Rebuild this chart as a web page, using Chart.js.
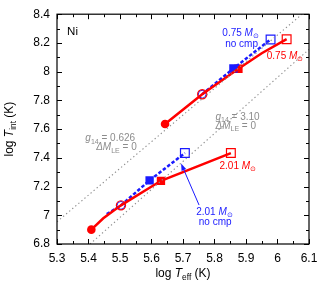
<!DOCTYPE html>
<html>
<head>
<meta charset="utf-8">
<script src="https://cdn.jsdelivr.net/npm/chart.js@4/dist/chart.umd.min.js"></script>
<style>
html,body{margin:0;padding:0;background:#fff;}
#wrap{width:330px;height:294px;position:relative;}
</style>
</head>
<body>
<div id="wrap"><canvas id="c" width="330" height="294"></canvas></div>
<script>
// ---- data (log Teff, log Tint) ----
const xTicks = [5.3, 5.4, 5.5, 5.6, 5.7, 5.8, 5.9, 6.0, 6.1];
const yTicks = [6.8, 7.0, 7.2, 7.4, 7.6, 7.8, 8.0, 8.2, 8.4];

const gLowLine  = [[5.300, 6.955], [6.078, 8.400]];   // g14 = 0.626
const gHighLine = [[5.405, 6.800], [6.100, 8.155]];   // g14 = 3.10

const red075  = [[5.643, 7.635], [5.761, 7.843], [5.876, 8.020], [5.950, 8.128], [6.029, 8.226]];
const blue075 = [[5.761, 7.843], [5.860, 8.022], [5.978, 8.224]];
const red201  = [[5.409, 6.900], [5.447, 6.979], [5.503, 7.069], [5.630, 7.240], [5.852, 7.433]];
const blue201 = [[5.458, 7.008], [5.503, 7.069], [5.594, 7.243], [5.706, 7.433]];

const redFilledCircle = [[5.643, 7.635], [5.409, 6.900]];
const openCircle      = [[5.761, 7.843], [5.503, 7.069]];
const blueFilledSq    = [[5.860, 8.022], [5.594, 7.243]];
const redFilledSq     = [[5.876, 8.020], [5.630, 7.240]];
const redOpenSq       = [[6.029, 8.226], [5.852, 7.433]];
const blueOpenSq      = [[5.978, 8.224], [5.706, 7.433]];

const arrow201 = [[5.751, 7.071], [5.694, 7.360]]; // tail -> tip

const RED = '#ff0000', BLUE = '#1a1aff', GREY = '#8c8c8c';
const FONT = '"Liberation Sans", Arial, Helvetica, sans-serif';

const pts = a => a.map(p => ({x: p[0], y: p[1]}));

function lineDs(data, color, width, dash) {
  return {type: 'line', data: pts(data), borderColor: color, borderWidth: width,
    borderDash: dash || [], pointRadius: 0, fill: false, tension: 0, showLine: true};
}
function markDs(data, style, radius, fillColor, borderColor, bw) {
  return {type: 'scatter', data: pts(data), showLine: false, pointStyle: style,
    pointRadius: radius, pointHoverRadius: radius, backgroundColor: fillColor,
    borderColor: borderColor, borderWidth: bw};
}

// rich text: parts = [{t, it, sub}]
function richWidth(ctx, parts, size) {
  let w = 0;
  for (const p of parts) {
    const s = p.sub ? size * 0.7 : size;
    ctx.font = (p.it ? 'italic ' : '') + s + 'px ' + FONT;
    w += ctx.measureText(p.t).width;
  }
  return w;
}
function drawRich(ctx, parts, x, y, size, color, align) {
  const w = richWidth(ctx, parts, size);
  let cx = align === 'center' ? x - w / 2 : (align === 'right' ? x - w : x);
  ctx.fillStyle = color;
  ctx.textBaseline = 'middle';
  ctx.textAlign = 'left';
  for (const p of parts) {
    const s = p.sub ? size * 0.7 : size;
    ctx.font = (p.it ? 'italic ' : '') + s + 'px ' + FONT;
    const dy = p.sub ? size * 0.3 : 0;
    ctx.fillText(p.t, cx, y + dy);
    cx += ctx.measureText(p.t).width;
  }
}

const annotations = [
  {x: 5.332, y: 8.275, align: 'left',   color: '#000', size: 11.5, parts: [{t: 'Ni'}]},
  {x: 5.883, y: 8.268, align: 'center', color: BLUE, size: 10, parts: [{t: '0.75 '}, {t: 'M', it: true}, {t: '⊙', sub: true}]},
  {x: 5.886, y: 8.192, align: 'center', color: BLUE, size: 10, parts: [{t: 'no cmp'}]},
  {x: 6.024, y: 8.108, align: 'center', color: RED, size: 10, parts: [{t: '0.75 '}, {t: 'M', it: true}, {t: '⊙', sub: true}]},
  {x: 5.548, y: 7.534, align: 'right',  color: GREY, size: 10, parts: [{t: 'g', it: true}, {t: '14', sub: true}, {t: ' = 0.626'}]},
  {x: 5.553, y: 7.471, align: 'right',  color: GREY, size: 10, parts: [{t: 'ΔM', it: true}, {t: 'LE', sub: true}, {t: ' = 0'}]},
  {x: 5.803, y: 7.684, align: 'left',   color: GREY, size: 10, parts: [{t: 'g', it: true}, {t: '14', sub: true}, {t: ' = 3.10'}]},
  {x: 5.803, y: 7.621, align: 'left',   color: GREY, size: 10, parts: [{t: 'ΔM', it: true}, {t: 'LE', sub: true}, {t: ' = 0'}]},
  {x: 5.874, y: 7.342, align: 'center', color: RED, size: 10, parts: [{t: '2.01 '}, {t: 'M', it: true}, {t: '⊙', sub: true}]},
  {x: 5.800, y: 7.023, align: 'center', color: BLUE, size: 10, parts: [{t: '2.01 '}, {t: 'M', it: true}, {t: '⊙', sub: true}]},
  {x: 5.802, y: 6.952, align: 'center', color: BLUE, size: 10, parts: [{t: 'no cmp'}]}
];

const framePlugin = {
  id: 'frame',
  afterDraw(chart) {
    const {ctx, chartArea: a, scales: {x, y}} = chart;
    ctx.save();
    ctx.strokeStyle = '#000';
    ctx.lineWidth = 1.2;
    ctx.strokeRect(a.left, a.top, a.right - a.left, a.bottom - a.top);
    ctx.lineWidth = 1;
    ctx.beginPath();
    for (let v = 5.3; v <= 6.1001; v += 0.05) {
      const px = Math.round(x.getPixelForValue(v)) + 0.5;
      const major = Math.abs(v * 10 - Math.round(v * 10)) < 1e-6;
      const L = major ? 5 : 3;
      ctx.moveTo(px, a.bottom); ctx.lineTo(px, a.bottom - L);
      ctx.moveTo(px, a.top); ctx.lineTo(px, a.top + L);
    }
    for (let v = 6.8; v <= 8.4001; v += 0.1) {
      const py = Math.round(y.getPixelForValue(v)) + 0.5;
      const major = Math.abs(v * 5 - Math.round(v * 5)) < 1e-6;
      const L = major ? 5 : 3;
      ctx.moveTo(a.left, py); ctx.lineTo(a.left + L, py);
      ctx.moveTo(a.right, py); ctx.lineTo(a.right - L, py);
    }
    ctx.stroke();

    // axis titles
    const cxm = (a.left + a.right) / 2;
    drawRich(ctx, [{t: 'log '}, {t: 'T', it: true}, {t: 'eff', sub: true}, {t: ' (K)'}], cxm, 274, 12, '#000', 'center');
    ctx.save();
    ctx.translate(10, (a.top + a.bottom) / 2);
    ctx.rotate(-Math.PI / 2);
    drawRich(ctx, [{t: 'log '}, {t: 'T', it: true}, {t: 'int', sub: true}, {t: ' (K)'}], 0, 0, 12, '#000', 'center');
    ctx.restore();
    ctx.restore();
  },
  afterDatasetsDraw(chart) {
    const {ctx, scales: {x, y}} = chart;
    ctx.save();
    // arrow
    const x0 = x.getPixelForValue(arrow201[0][0]), y0 = y.getPixelForValue(arrow201[0][1]);
    const x1 = x.getPixelForValue(arrow201[1][0]), y1 = y.getPixelForValue(arrow201[1][1]);
    const ang = Math.atan2(y1 - y0, x1 - x0);
    ctx.strokeStyle = BLUE; ctx.fillStyle = BLUE; ctx.lineWidth = 1;
    ctx.beginPath(); ctx.moveTo(x0, y0);
    ctx.lineTo(x1 - 5 * Math.cos(ang), y1 - 5 * Math.sin(ang)); ctx.stroke();
    ctx.beginPath();
    ctx.moveTo(x1, y1);
    ctx.lineTo(x1 - 7 * Math.cos(ang) + 2.5 * Math.sin(ang), y1 - 7 * Math.sin(ang) - 2.5 * Math.cos(ang));
    ctx.lineTo(x1 - 7 * Math.cos(ang) - 2.5 * Math.sin(ang), y1 - 7 * Math.sin(ang) + 2.5 * Math.cos(ang));
    ctx.closePath(); ctx.fill();
    for (const an of annotations) {
      drawRich(ctx, an.parts, x.getPixelForValue(an.x), y.getPixelForValue(an.y), an.size, an.color, an.align);
    }
    ctx.restore();
  }
};

const fmt = v => String(Number(Number(v).toFixed(2)));

new Chart(document.getElementById('c'), {
  type: 'scatter',
  data: {
    datasets: [
      lineDs(gLowLine, GREY, 1.1, [1.3, 2.7]),
      lineDs(gHighLine, GREY, 1.1, [1.3, 2.7]),
      lineDs(red201, RED, 2.5),
      lineDs(blue201, BLUE, 2.5, [3.5, 2]),
      lineDs(red075, RED, 2.5),
      lineDs(blue075, BLUE, 2.5, [3.5, 2]),
      markDs(redFilledCircle, 'circle', 4.3, RED, RED, 0),
      markDs(blueFilledSq, 'rect', 5.9, BLUE, BLUE, 0),
      markDs(redFilledSq, 'rect', 5.9, RED, RED, 0),
      markDs(openCircle, 'circle', 4.6, 'rgba(0,0,0,0)', RED, 1.2),
      markDs(openCircle, 'circle', 3.9, 'rgba(0,0,0,0)', BLUE, 1),
      markDs(redOpenSq, 'rect', 6.2, 'rgba(255,255,255,0)', RED, 1.2),
      markDs(blueOpenSq, 'rect', 6.2, 'rgba(255,255,255,0)', BLUE, 1.2)
    ]
  },
  options: {
    responsive: false,
    animation: false,
    events: [],
    layout: {padding: {top: 14, right: 21, left: 0, bottom: 0}},
    plugins: {legend: {display: false}, tooltip: {enabled: false}},
    scales: {
      x: {
        type: 'linear', min: 5.3, max: 6.1,
        afterBuildTicks: s => { s.ticks = xTicks.map(v => ({value: v})); },
        afterFit: s => { s.height = 50; },
        grid: {display: false, drawTicks: false},
        border: {display: false},
        ticks: {color: '#000', padding: 7, font: {family: FONT, size: 12}, callback: fmt, maxRotation: 0, autoSkip: false}
      },
      y: {
        type: 'linear', min: 6.8, max: 8.4,
        afterBuildTicks: s => { s.ticks = yTicks.map(v => ({value: v})); },
        afterFit: s => { s.width = 57; },
        grid: {display: false, drawTicks: false},
        border: {display: false},
        ticks: {color: '#000', padding: 7, font: {family: FONT, size: 12}, callback: fmt, autoSkip: false}
      }
    }
  },
  plugins: [framePlugin]
});
</script>
</body>
</html>
